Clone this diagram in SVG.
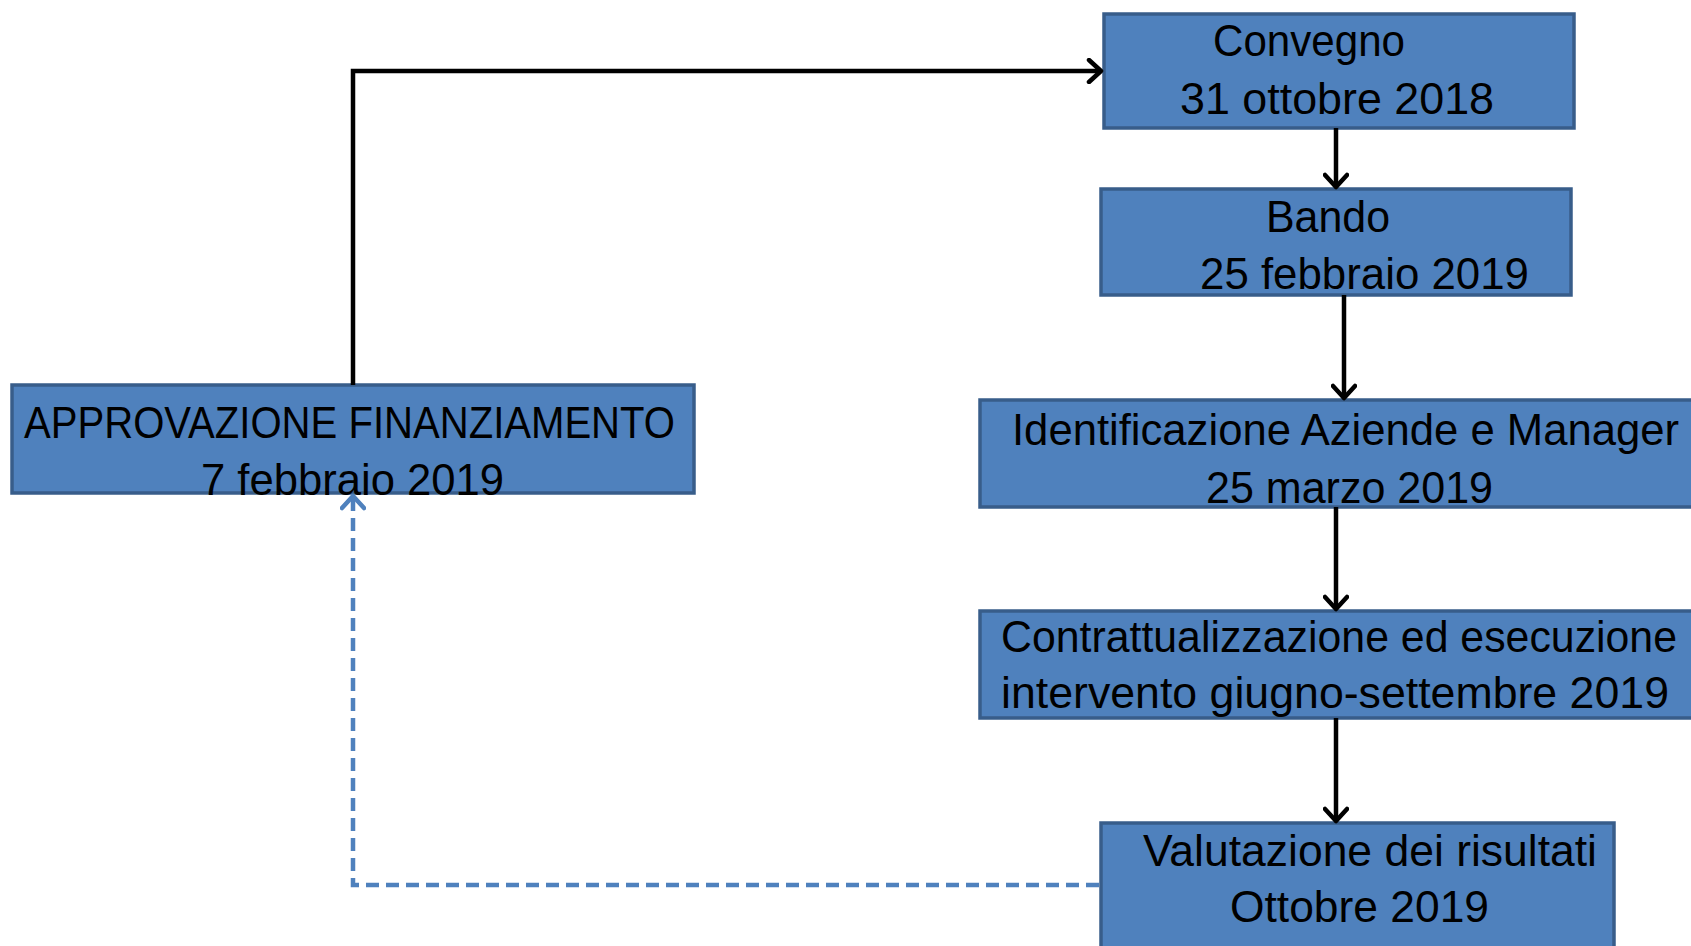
<svg xmlns="http://www.w3.org/2000/svg" width="1691" height="946" viewBox="0 0 1691 946">
<style>
.box{fill:#4f81bd;stroke:#385d8a;stroke-width:3.5}
.t{font-family:"Liberation Sans",Arial,sans-serif;font-size:45px;fill:#000}
.c{fill:none;stroke:#000;stroke-width:4.5}
.d{fill:none;stroke:#4f81bd;stroke-width:4.5;stroke-dasharray:13,7}
</style>
<defs>
<marker id="ab" markerUnits="userSpaceOnUse" markerWidth="26" markerHeight="26" refX="15" refY="13" orient="auto" viewBox="0 0 26 26">
<path d="M3,2 L15,13 L3,24" fill="none" stroke="#000" stroke-width="4.5" stroke-linecap="round" stroke-linejoin="round"/>
</marker>
<marker id="ad" markerUnits="userSpaceOnUse" markerWidth="26" markerHeight="26" refX="15" refY="13" orient="auto" viewBox="0 0 26 26">
<path d="M3,2 L15,13 L3,24" fill="none" stroke="#4f81bd" stroke-width="4.5" stroke-linecap="round" stroke-linejoin="round"/>
</marker>
</defs>
<rect width="1691" height="946" fill="#fff"/>
<g id="n1">
<rect class="box" x="1104" y="14" width="470" height="114"/>
<text class="t" x="1213" y="56" textLength="192" lengthAdjust="spacingAndGlyphs">Convegno</text>
<text class="t" x="1180" y="114" textLength="314" lengthAdjust="spacingAndGlyphs">31 ottobre 2018</text>
</g>
<g id="n2">
<rect class="box" x="1101" y="189" width="470" height="106"/>
<text class="t" x="1266" y="232" textLength="124" lengthAdjust="spacingAndGlyphs">Bando</text>
<text class="t" x="1200" y="289" textLength="329" lengthAdjust="spacingAndGlyphs">25 febbraio 2019</text>
</g>
<g id="n3">
<rect class="box" x="980" y="400" width="740" height="107"/>
<text class="t" x="1012" y="445" textLength="667" lengthAdjust="spacingAndGlyphs">Identificazione Aziende e Manager</text>
<text class="t" x="1206" y="503" textLength="287" lengthAdjust="spacingAndGlyphs">25 marzo 2019</text>
</g>
<g id="n4">
<rect class="box" x="980" y="611" width="740" height="107"/>
<text class="t" x="1001" y="652" textLength="676" lengthAdjust="spacingAndGlyphs">Contrattualizzazione ed esecuzione</text>
<text class="t" x="1001" y="708" textLength="668" lengthAdjust="spacingAndGlyphs">intervento giugno-settembre 2019</text>
</g>
<g id="n5">
<rect class="box" x="1101" y="823" width="513" height="140"/>
<text class="t" x="1143" y="866" textLength="454" lengthAdjust="spacingAndGlyphs">Valutazione dei risultati</text>
<text class="t" x="1230" y="922" textLength="259" lengthAdjust="spacingAndGlyphs">Ottobre 2019</text>
</g>
<g id="n6">
<rect class="box" x="12" y="385" width="682" height="108"/>
<text class="t" x="24" y="438" textLength="651" lengthAdjust="spacingAndGlyphs">APPROVAZIONE FINANZIAMENTO</text>
<text class="t" x="201" y="495" textLength="303" lengthAdjust="spacingAndGlyphs">7 febbraio 2019</text>
</g>
<g id="connectors">
<path class="c" d="M353,385 V71 H1101" marker-end="url(#ab)"/>
<path class="c" d="M1336,128 V187" marker-end="url(#ab)"/>
<path class="c" d="M1344,295 V398" marker-end="url(#ab)"/>
<path class="c" d="M1336,507 V609" marker-end="url(#ab)"/>
<path class="c" d="M1336,718 V821" marker-end="url(#ab)"/>
<path class="d" d="M1099,885 H353 V496" marker-end="url(#ad)"/>
</g>
</svg>
